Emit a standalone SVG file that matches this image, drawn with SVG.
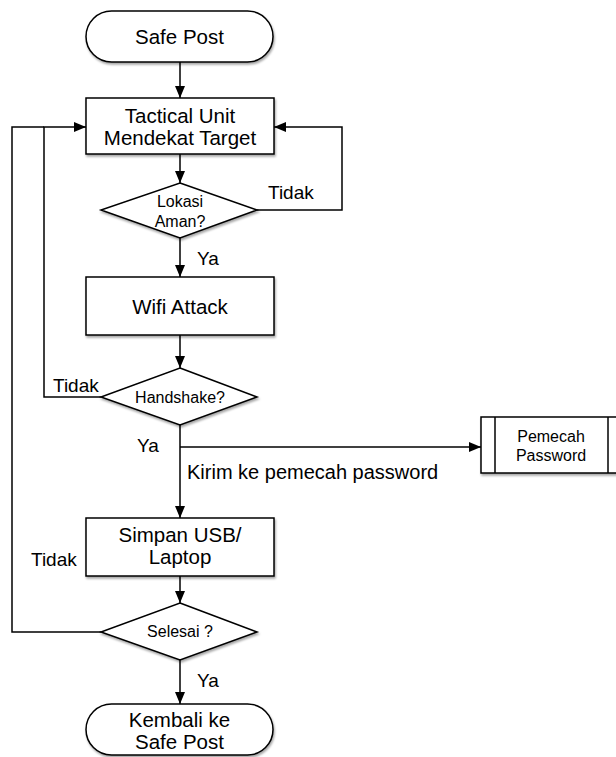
<svg xmlns="http://www.w3.org/2000/svg" width="616" height="757" viewBox="0 0 616 757">
<defs>
<marker id="arr" markerUnits="userSpaceOnUse" markerWidth="12" markerHeight="10" refX="12" refY="5" orient="auto">
<path d="M0,0 L12,5 L0,10 z" fill="#000"/>
</marker>
<filter id="sh" x="-10%" y="-10%" width="120%" height="130%">
<feDropShadow dx="1" dy="2" stdDeviation="1.2" flood-color="#000" flood-opacity="0.35"/>
</filter>
</defs>
<style>
.s{fill:#fff;stroke:#000;stroke-width:1.5;filter:url(#sh)}
.c{fill:none;stroke:#000;stroke-width:1.5}
.t{font-family:"Liberation Sans",Arial,sans-serif;font-size:20.5px;fill:#000;text-anchor:middle}
.d{font-family:"Liberation Sans",Arial,sans-serif;font-size:16px;fill:#000;text-anchor:middle}
.l{font-family:"Liberation Sans",Arial,sans-serif;font-size:19px;fill:#000}
</style>
<rect width="616" height="757" fill="#fff"/>
<g id="connectors">
<path class="c" d="M180,62 V98" marker-end="url(#arr)"/>
<path class="c" d="M180,154 V183" marker-end="url(#arr)"/>
<path class="c" d="M257,210 H342 V127 H274" marker-end="url(#arr)"/>
<path class="c" d="M180,238 V277" marker-end="url(#arr)"/>
<path class="c" d="M180,335 V368" marker-end="url(#arr)"/>
<path class="c" d="M101,397 H44 V127 H86" marker-end="url(#arr)"/>
<path class="c" d="M180,425 V518" marker-end="url(#arr)"/>
<path class="c" d="M180,447 H481" marker-end="url(#arr)"/>
<path class="c" d="M180,576 V603" marker-end="url(#arr)"/>
<path class="c" d="M101,632 H12 V127 H44"/>
<path class="c" d="M180,660 V704" marker-end="url(#arr)"/>
<text class="l" x="268" y="199">Tidak</text>
<text class="l" x="197" y="265">Ya</text>
<text class="l" x="53" y="392">Tidak</text>
<text class="l" x="137" y="452">Ya</text>
<text class="l" x="187" y="479" style="font-size:20px">Kirim ke pemecah password</text>
<text class="l" x="31" y="566">Tidak</text>
<text class="l" x="197" y="687">Ya</text>
</g>
<g id="safe-post">
<rect class="s" x="86" y="11" width="187" height="51" rx="25.5"/>
<text class="t" x="179.5" y="44">Safe Post</text>
</g>
<g id="tactical-unit">
<rect class="s" x="86" y="98" width="188" height="56"/>
<text class="t" x="180" y="123">Tactical Unit</text>
<text class="t" x="180" y="145">Mendekat Target</text>
</g>
<g id="lokasi-aman">
<polygon class="s" points="180,183 257,210 180,238 101,210"/>
<text class="d" x="180" y="207">Lokasi</text>
<text class="d" x="180" y="227">Aman?</text>
</g>
<g id="wifi-attack">
<rect class="s" x="86" y="277" width="188" height="58"/>
<text class="t" x="180" y="314">Wifi Attack</text>
</g>
<g id="handshake">
<polygon class="s" points="180,368 257,397 180,425 101,397"/>
<text class="d" x="180" y="403">Handshake?</text>
</g>
<g id="pemecah-password">
<rect class="s" x="481" y="417" width="145" height="56"/>
<line class="c" x1="495" y1="417" x2="495" y2="473"/>
<line class="c" x1="608" y1="417" x2="608" y2="473"/>
<text class="d" x="551" y="442">Pemecah</text>
<text class="d" x="551" y="461">Password</text>
</g>
<g id="simpan-usb">
<rect class="s" x="86" y="518" width="188" height="58"/>
<text class="t" x="180" y="542">Simpan USB/</text>
<text class="t" x="180" y="564">Laptop</text>
</g>
<g id="selesai">
<polygon class="s" points="180,603 257,632 180,660 101,632"/>
<text class="d" x="180" y="637">Selesai ?</text>
</g>
<g id="kembali">
<rect class="s" x="86" y="704" width="187" height="51" rx="25.5"/>
<text class="t" x="179.5" y="727">Kembali ke</text>
<text class="t" x="179.5" y="749">Safe Post</text>
</g>
</svg>
